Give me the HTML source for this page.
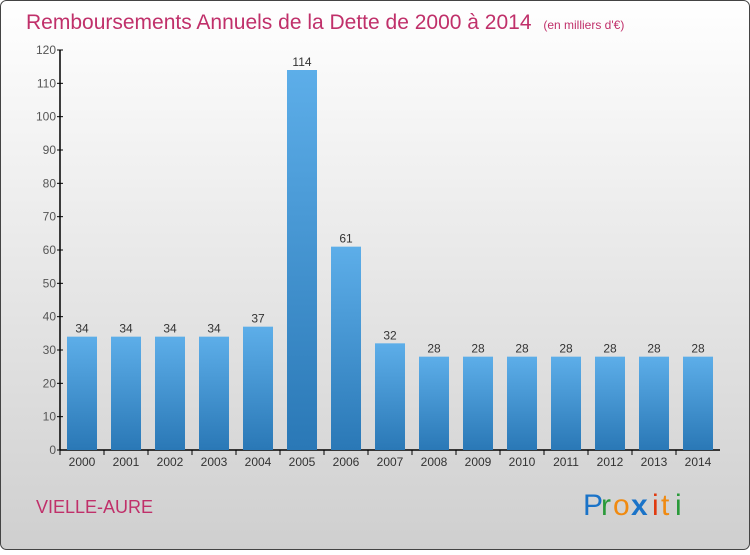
<!DOCTYPE html>
<html><head><meta charset="utf-8"><style>
body{margin:0;width:750px;height:550px;overflow:hidden}
</style></head><body>
<svg width="750" height="550" xmlns="http://www.w3.org/2000/svg">
<defs>
<linearGradient id="bg" x1="0" y1="0" x2="0" y2="1"><stop offset="0" stop-color="#ffffff"/><stop offset="1" stop-color="#cfcfcf"/></linearGradient>
<linearGradient id="bar" x1="0" y1="0" x2="0" y2="1"><stop offset="0" stop-color="#5daee9"/><stop offset="1" stop-color="#2a78b6"/></linearGradient>
</defs>
<rect x="0.5" y="0.5" width="749" height="549" rx="6" fill="url(#bg)" stroke="#444"/>
<text x="26" y="29" font-family="Liberation Sans, sans-serif" font-size="21" fill="#c0306a">Remboursements Annuels de la Dette de 2000 à 2014 <tspan font-size="12" dx="6">(en milliers d'€)</tspan></text>
<g id="yaxis"></g>
<g id="bars"></g>
<text x="36" y="513" font-family="Liberation Sans, sans-serif" font-size="18" fill="#c0306a">VIELLE-AURE</text>
<g font-family="Liberation Sans, sans-serif" font-size="30">
<text x="583" y="515" fill="#1a73c8">P</text><text x="601" y="515" fill="#2a9a3a">r</text><text x="613" y="515" fill="#f08a10">o</text><text x="631" y="515" fill="#1a73c8" font-weight="bold">x</text><text x="652" y="515" fill="#e03a10">i</text><text x="661" y="515" fill="#f08a10">t</text><text x="675" y="515" fill="#2a9a3a">i</text>
</g>
</svg>
<script>
const categories=["2000","2001","2002","2003","2004","2005","2006","2007","2008","2009","2010","2011","2012","2013","2014"];
const values=[34,34,34,34,37,114,61,32,28,28,28,28,28,28,28];
const yTicks=[0,10,20,30,40,50,60,70,80,90,100,110,120];
const NS="http://www.w3.org/2000/svg";
const y0=450,yMax=120,plotH=400;
function yScale(v){return y0-v/yMax*plotH;}
function xScale(i){return 82+i*44;}
function mk(tag,attrs,parent){const e=document.createElementNS(NS,tag);for(const k in attrs)e.setAttribute(k,attrs[k]);parent.appendChild(e);return e;}
const ya=document.getElementById('yaxis');
const ba=document.getElementById('bars');
let l=mk('line',{x1:60,y1:yScale(120),x2:60,y2:y0,stroke:'#000','stroke-width':1.5},ya);


let xl=mk('line',{x1:60,y1:y0,x2:720,y2:y0,stroke:'#000','stroke-width':1.5},ya);


yTicks.forEach(t=>{
 const y=yScale(t);
 let tk=mk('line',{x1:57,y1:y,x2:63,y2:y,stroke:'#000'},ya);
 
 
 let tx=mk('text',{x:56,y:y+4,'text-anchor':'end','font-family':'Liberation Sans, sans-serif','font-size':12,fill:'#555'},ya);
 tx.textContent=t;
 
 
});
categories.forEach((c,i)=>{
 const cx=xScale(i),v=values[i],y=yScale(v);
 let r=mk('rect',{x:cx-15,y:y,width:30,height:y0-y,fill:'url(#bar)'},ba);
 
 
 let vt=mk('text',{x:cx,y:y-4,'text-anchor':'middle','font-family':'Liberation Sans, sans-serif','font-size':12,fill:'#333'},ba);
 vt.textContent=v;
 
 
 let tk=mk('line',{x1:cx-22,y1:y0,x2:cx-22,y2:y0+5,stroke:'#000'},ba);
 
 
 let xt=mk('text',{x:cx,y:y0+16,'text-anchor':'middle','font-family':'Liberation Sans, sans-serif','font-size':12,fill:'#333'},ba);
 xt.textContent=c;
 
 
});
</script>
</body></html>
